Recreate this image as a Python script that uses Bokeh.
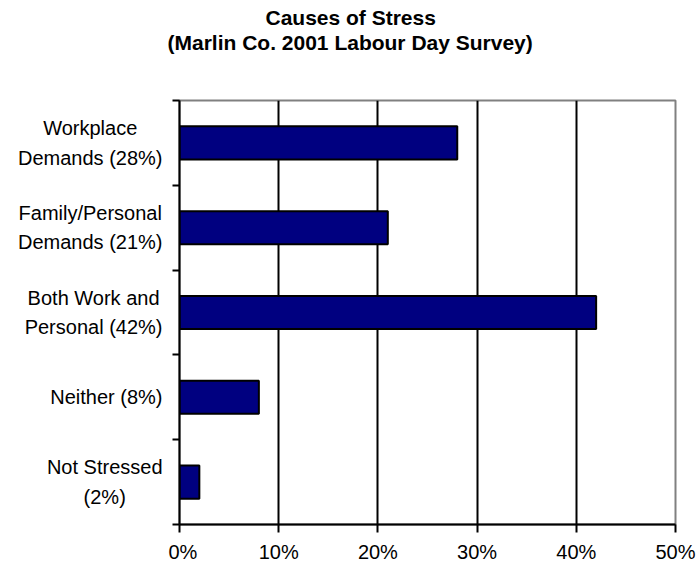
from bokeh.plotting import figure
from bokeh.layouts import row
from bokeh.models import Range1d, FixedTicker, Title, Label, ColumnDataSource
from bokeh.embed import file_html
from bokeh.resources import INLINE

# Survey answers, top to bottom, and the share of respondents for each
causes = ["Workplace\nDemands", "Family/Personal\nDemands", "Both Work and\nPersonal", "Neither", "Not Stressed"]
shares = [28, 21, 42, 8, 2]
share_breaks = [" ", " ", " ", " ", "\n"]

x_ticks = [0, 10, 20, 30, 40, 50]
x_tick_labels = ["0%", "10%", "20%", "30%", "40%", "50%"]

title_lines = ["Causes of Stress", "(Marlin Co. 2001 Labour Day Survey)"]

FONT = "Liberation Sans"
n = len(causes)
rows = [n - 0.5 - i for i in range(n)]
row_edges = list(range(n + 1))

src = ColumnDataSource(dict(row=rows, share=shares))
y_range = Range1d(0, n)

TOP, BOTTOM = 100, 41
LABEL_W = 168

# --- category labels: a narrow text-only panel to the left of the chart ---
lbl = figure(width=LABEL_W, height=565, output_backend="svg", toolbar_location=None,
             x_range=Range1d(0, 1), y_range=y_range,
             min_border_left=0, min_border_right=0, min_border_top=TOP, min_border_bottom=BOTTOM,
             background_fill_color="white", border_fill_color="white", outline_line_color=None)
lbl.axis.visible = False
lbl.grid.visible = False
for r, c, b, s in zip(rows, causes, share_breaks, shares):
    lbl.add_layout(Label(x=1, y=r, x_offset=-6, text=f"{c}{b}({s}%)",
                         anchor="center_right", text_align="center",
                         text_font=FONT, text_font_size="20px", text_color="black",
                         text_line_height=1.33))

# --- bar chart ---
p = figure(width=698 - LABEL_W, height=565, output_backend="svg", toolbar_location=None,
           x_range=Range1d(0, 50), y_range=y_range,
           min_border_left=179 - LABEL_W, min_border_right=23,
           min_border_top=TOP, min_border_bottom=BOTTOM,
           background_fill_color="white", border_fill_color="white")
p.outline_line_color = "#808080"
p.outline_line_width = 2

p.hbar(y="row", left=0, right="share", height=0.39, source=src,
       fill_color="#000080", line_color="black", line_width=2)

# vertical gridlines
p.xgrid.ticker = FixedTicker(ticks=x_ticks[1:-1])
p.xgrid.grid_line_color = "black"
p.xgrid.grid_line_width = 2
p.ygrid.visible = False

# bottom axis
xa = p.xaxis[0]
xa.ticker = FixedTicker(ticks=x_ticks)
xa.major_label_overrides = {t: lab for t, lab in zip(x_ticks, x_tick_labels)}
xa.axis_line_color = "black"
xa.axis_line_width = 2
xa.major_tick_line_color = "black"
xa.major_tick_line_width = 2
xa.major_tick_in = 0
xa.major_tick_out = 8
xa.minor_tick_line_color = None
xa.major_label_standoff = 8
xa.major_label_text_font = FONT
xa.major_label_text_font_size = "20px"
xa.major_label_text_color = "black"

# left axis: tick marks on the boundaries between categories
ya = p.yaxis[0]
ya.ticker = FixedTicker(ticks=row_edges)
ya.axis_line_color = "black"
ya.axis_line_width = 2
ya.major_tick_line_color = "black"
ya.major_tick_line_width = 2
ya.major_tick_in = 0
ya.major_tick_out = 7
ya.minor_tick_line_color = None
ya.major_label_standoff = 0
ya.major_label_text_font_size = "0px"
ya.major_label_text_alpha = 0

# two-line heading centred on the page, with a spacer between it and the frame
p.add_layout(Title(text=" ", standoff=22, text_font=FONT, text_font_size="21px"), "above")
p.add_layout(Title(text=title_lines[1], align="left", offset=-12, standoff=0,
                   text_font=FONT, text_font_size="21px", text_font_style="bold",
                   text_color="black"), "above")
p.add_layout(Title(text=title_lines[0], align="left", offset=86, standoff=0,
                   text_font=FONT, text_font_size="21px", text_font_style="bold",
                   text_color="black"), "above")

layout = row(lbl, p, spacing=0)
open("out.html", "w").write(file_html(layout, INLINE))
